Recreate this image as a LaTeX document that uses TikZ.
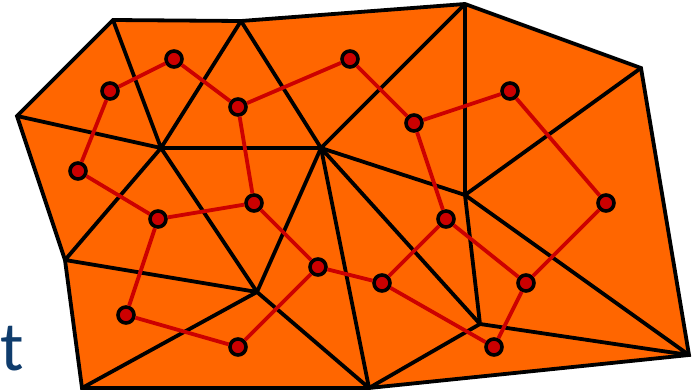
\documentclass[tikz,border=0pt]{standalone}
\usepackage{fontspec}
\usepackage{xcolor}
\usepackage{tikz}
\setmainfont{Carlito}
\definecolor{Mesh}{HTML}{FF6600}
\definecolor{Dual}{HTML}{CC0000}
\definecolor{Letter}{HTML}{0F3C6C}

\begin{document}
\begin{tikzpicture}[
  x=1pt, y=-1pt,
  edge/.style={line width=3.8pt, draw=black},
  link/.style={line width=3.8pt, draw=Dual},
  cell/.style={circle, draw=black, fill=Dual, line width=3.6pt, minimum size=16pt, inner sep=0pt}
]
  \useasboundingbox (0,0) rectangle (697,391);
  % mesh vertices
  \coordinate (va) at (113,20);
  \coordinate (vb) at (241,21);
  \coordinate (vc) at (17,116);
  \coordinate (vd) at (161,148);
  \coordinate (ve) at (321,148);
  \coordinate (vf) at (465,4);
  \coordinate (vg) at (641,68);
  \coordinate (vh) at (465,195);
  \coordinate (vi) at (65,260);
  \coordinate (vj) at (257,292);
  \coordinate (vk) at (82,388);
  \coordinate (vm) at (480,324);
  \coordinate (vn) at (369,388);
  \coordinate (vo) at (689,355);
  % mesh
  \draw[edge, fill=Mesh] (va) -- (vb) -- (vf) -- (vg) -- (vo) -- (vn) -- (vk) -- (vi) -- (vc) -- cycle;
  \draw[edge] (va) -- (vd) (vb) -- (vd) (vb) -- (ve) (vc) -- (vd) (vd) -- (ve) (ve) -- (vf) (vf) -- (vh);
  \draw[edge] (vg) -- (vh) (ve) -- (vh) (vd) -- (vi) (vd) -- (vj) (ve) -- (vj) (vi) -- (vj) (vj) -- (vk);
  \draw[edge] (vj) -- (vn) (ve) -- (vn) (ve) -- (vm) (vh) -- (vm) (vm) -- (vn) (vm) -- (vo) (vh) -- (vo);
  % dual graph
  \node[cell] (t1) at (110,91) {};
  \node[cell] (t2) at (174,59) {};
  \node[cell] (t3) at (238,107) {};
  \node[cell] (t4) at (78,171) {};
  \node[cell] (t5) at (350,59) {};
  \node[cell] (t6) at (414,123) {};
  \node[cell] (t7) at (510,91) {};
  \node[cell] (t8) at (606,203) {};
  \node[cell] (t9) at (158,219) {};
  \node[cell] (t10) at (254,203) {};
  \node[cell] (t11) at (126,315) {};
  \node[cell] (t12) at (238,347) {};
  \node[cell] (t13) at (318,267) {};
  \node[cell] (t14) at (446,219) {};
  \node[cell] (t15) at (382,283) {};
  \node[cell] (t16) at (526,283) {};
  \node[cell] (t17) at (494,347) {};
  \draw[link] (t1) -- (t2) (t2) -- (t3) (t1) -- (t4) (t4) -- (t9) (t3) -- (t5) (t3) -- (t10) (t9) -- (t10);
  \draw[link] (t9) -- (t11) (t11) -- (t12) (t12) -- (t13) (t10) -- (t13) (t13) -- (t15) (t15) -- (t14) (t15) -- (t17);
  \draw[link] (t5) -- (t6) (t6) -- (t7) (t6) -- (t14) (t14) -- (t16) (t16) -- (t17) (t7) -- (t8) (t8) -- (t16);
  % cut-off letter
  \node[anchor=base west, inner sep=0pt, text=Letter, font=\fontsize{70}{80}\selectfont] (cut) at (0,370) {t};
\end{tikzpicture}
\end{document}
